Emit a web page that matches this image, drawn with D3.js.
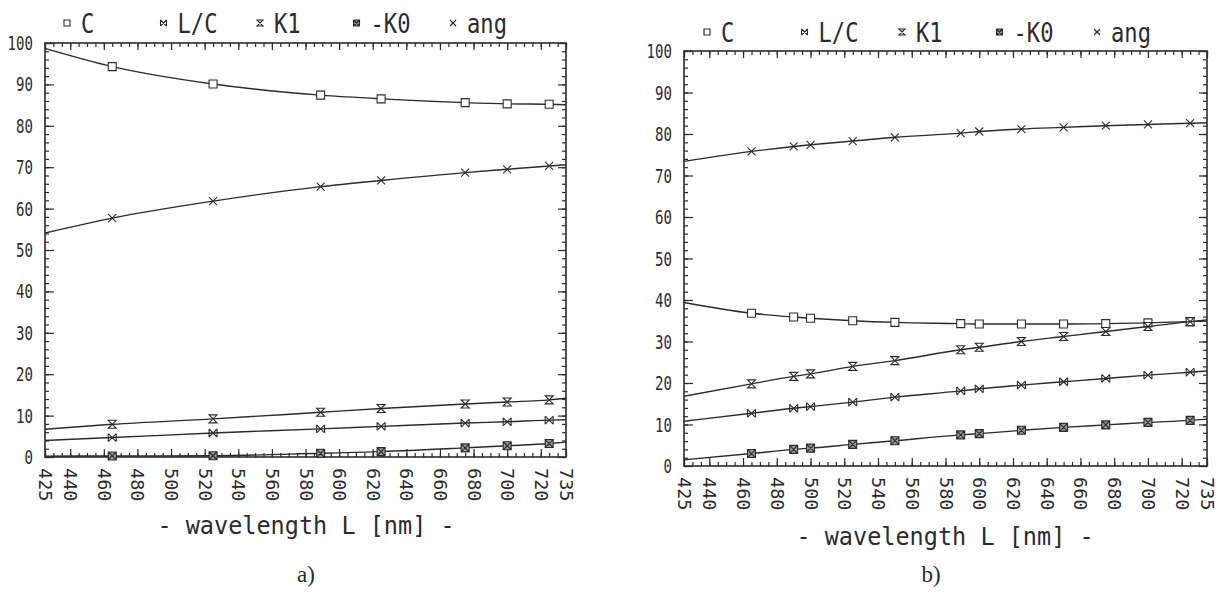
<!DOCTYPE html>
<html>
<head>
<meta charset="utf-8">
<script src="https://cdn.jsdelivr.net/npm/d3@7"></script>
<style>
  body { margin: 0; background: #fff; }
  svg { display: block; }
  text { font-family: "DejaVu Sans Mono", monospace; fill: #2b2b2b; }
</style>
</head>
<body>
<div id="chart"></div>
<script>
/*
 * Globals: d3
 */
// legend entries, in the order they are drawn
var seriesNames = ['C', 'L/C', 'K1', '-K0', 'ang'];
var markerKinds = ['square', 'bowtie', 'hourglass', 'boxcross', 'cross'];

var yTicks = [0, 10, 20, 30, 40, 50, 60, 70, 80, 90, 100];
var xTicks = [425, 440, 460, 480, 500, 520, 540, 560, 580, 600, 620, 640, 660, 680, 700, 720, 735];

// panel a) - curve ends at 425 / 735 carry no marker
var waveA = [425, 465, 525, 589, 625, 675, 700, 725, 735];
var cA    = [98.7, 94.3, 90.1, 87.4, 86.5, 85.6, 85.3, 85.2, 85.1];
var lcA   = [4.0, 4.7, 5.8, 6.8, 7.4, 8.2, 8.5, 8.9, 9.0];
var k1A   = [6.7, 7.9, 9.2, 10.8, 11.7, 12.8, 13.3, 13.8, 14.2];
var k0A   = [0.2, 0.25, 0.3, 0.9, 1.3, 2.2, 2.7, 3.25, 3.6];
var angA  = [54.1, 57.7, 61.8, 65.3, 66.8, 68.7, 69.5, 70.3, 70.6];

// panel b)
var waveB = [425, 465, 490, 500, 525, 550, 589, 600, 625, 650, 675, 700, 725, 735];
var cB    = [39.4, 36.8, 35.9, 35.6, 35.0, 34.6, 34.3, 34.2, 34.2, 34.2, 34.3, 34.5, 34.8, 34.9];
var lcB   = [10.8, 12.7, 13.9, 14.3, 15.4, 16.6, 18.1, 18.6, 19.5, 20.3, 21.1, 21.9, 22.6, 22.9];
var k1B   = [16.8, 19.8, 21.6, 22.2, 24.0, 25.4, 28.0, 28.6, 30.0, 31.2, 32.4, 33.6, 34.8, 35.2];
var k0B   = [1.5, 3.0, 4.0, 4.3, 5.2, 6.1, 7.5, 7.8, 8.6, 9.3, 9.9, 10.5, 11.0, 11.3];
var angB  = [73.4, 75.8, 77.0, 77.4, 78.3, 79.2, 80.2, 80.6, 81.2, 81.6, 82.0, 82.3, 82.6, 82.7];

var xTitle = '- wavelength L [nm] -';

(function() {
  var ink = '#2b2b2b';
  var svg = d3.select('#chart').append('svg').attr('width', 1220).attr('height', 593);

  var panels = [
    { left: 45, right: 566, top: 43, bottom: 457, waves: waveA, series: [cA, lcA, k1A, k0A, angA],
      legendX: 67, legendStep: 96.5, legendY: 33, titleX: 306, titleY: 534, tag: 'a)', tagX: 306, tagY: 582 },
    { left: 684, right: 1207, top: 51, bottom: 466, waves: waveB, series: [cB, lcB, k1B, k0B, angB],
      legendX: 707, legendStep: 97.5, legendY: 42, titleX: 945, titleY: 545, tag: 'b)', tagX: 931, tagY: 582 }
  ];

  panels.forEach(drawPanel);

  /*
   * Marker outline, centred on 0,0
   */
  function markerPath(kind, s) {
    if (kind === 'square' || kind === 'boxcross') {
      var p = 'M' + -s + ',' + -s + 'H' + s + 'V' + s + 'H' + -s + 'Z';
      if (kind === 'boxcross') {
        p += 'M' + -s + ',' + -s + 'L' + s + ',' + s + 'M' + -s + ',' + s + 'L' + s + ',' + -s;
      }
      return p;
    }
    if (kind === 'bowtie') {
      return 'M' + -s + ',' + -s + 'L' + s + ',' + s + 'M' + -s + ',' + s + 'L' + s + ',' + -s +
        'M' + -s + ',' + -s + 'V' + s + 'M' + s + ',' + -s + 'V' + s;
    }
    if (kind === 'hourglass') {
      return 'M' + -s + ',' + -s + 'H' + s + 'L' + -s + ',' + s + 'H' + s + 'Z';
    }
    return 'M' + -s + ',' + -s + 'L' + s + ',' + s + 'M' + -s + ',' + s + 'L' + s + ',' + -s;
  }

  function styleMarker(sel, kind) {
    sel.attr('stroke', ink).attr('stroke-width', 1.1)
      .attr('fill', kind === 'boxcross' ? '#9a9a9a' : (kind === 'cross' || kind === 'bowtie' ? 'none' : '#fff'));
  }

  function drawPanel(p) {
    var x = d3.scaleLinear().domain([425, 735]).range([p.left, p.right]);
    var y = d3.scaleLinear().domain([0, 100]).range([p.bottom, p.top]);
    var g = svg.append('g');
    var minorX = d3.range(425, 736, 5);
    var minorY = d3.range(0, 101, 2);

    // inward ticks on all four sides
    var ax = g.append('g');
    ax.append('g').attr('transform', 'translate(0,' + p.bottom + ')')
      .call(d3.axisBottom(x).tickValues(minorX).tickSize(-4).tickSizeOuter(0).tickFormat(''));
    ax.append('g').attr('transform', 'translate(0,' + p.bottom + ')')
      .call(d3.axisBottom(x).tickValues(xTicks).tickSize(-8).tickSizeOuter(0).tickFormat(''));
    ax.append('g').attr('transform', 'translate(0,' + p.top + ')')
      .call(d3.axisTop(x).tickValues(minorX).tickSize(-4).tickSizeOuter(0).tickFormat(''));
    ax.append('g').attr('transform', 'translate(0,' + p.top + ')')
      .call(d3.axisTop(x).tickValues(xTicks).tickSize(-7).tickSizeOuter(0).tickFormat(''));
    ax.append('g').attr('transform', 'translate(' + p.left + ',0)')
      .call(d3.axisLeft(y).tickValues(minorY).tickSize(-4).tickSizeOuter(0).tickFormat(''));
    ax.append('g').attr('transform', 'translate(' + p.left + ',0)')
      .call(d3.axisLeft(y).tickValues(yTicks).tickSize(-9).tickSizeOuter(0).tickFormat(''));
    ax.append('g').attr('transform', 'translate(' + p.right + ',0)')
      .call(d3.axisRight(y).tickValues(minorY).tickSize(-4).tickSizeOuter(0).tickFormat(''));
    ax.append('g').attr('transform', 'translate(' + p.right + ',0)')
      .call(d3.axisRight(y).tickValues(yTicks).tickSize(-8).tickSizeOuter(0).tickFormat(''));
    ax.selectAll('.domain').remove();
    ax.selectAll('line').attr('stroke', ink).attr('stroke-width', 1.2);

    g.append('rect')
      .attr('x', p.left).attr('y', p.top)
      .attr('width', p.right - p.left).attr('height', p.bottom - p.top)
      .attr('fill', 'none').attr('stroke', ink).attr('stroke-width', 1.6);

    // y labels (narrow plotter lettering)
    g.selectAll('.ylab').data(yTicks).enter().append('text')
      .attr('class', 'ylab')
      .attr('text-anchor', 'end')
      .attr('font-size', 19)
      .attr('transform', function(d) { return 'translate(' + (p.left - 12) + ',' + (y(d) + 7) + ') scale(0.74,1)'; })
      .text(function(d) { return d; });

    // x labels, rotated to read downwards
    g.selectAll('.xlab').data(xTicks).enter().append('text')
      .attr('class', 'xlab')
      .attr('font-size', 18.5)
      .attr('transform', function(d) { return 'translate(' + (x(d) - 6) + ',' + (p.bottom + 11) + ') rotate(90)'; })
      .text(function(d) { return d; });

    // curves and markers
    var line = d3.line()
      .x(function(d, i) { return x(p.waves[i]); })
      .y(function(d) { return y(d); })
      .curve(d3.curveMonotoneX);

    p.series.forEach(function(vals, si) {
      g.append('path').attr('d', line(vals))
        .attr('fill', 'none').attr('stroke', ink).attr('stroke-width', 1.4);
      var pts = vals.map(function(v, i) { return { w: p.waves[i], v: v }; })
        .filter(function(d) { return d.w > 425 && d.w < 735; });
      g.selectAll('.m' + si).data(pts).enter().append('path')
        .attr('class', 'm' + si)
        .attr('transform', function(d) { return 'translate(' + x(d.w) + ',' + y(d.v) + ')'; })
        .attr('d', markerPath(markerKinds[si], 4))
        .call(styleMarker, markerKinds[si]);
    });

    // legend across the top
    seriesNames.forEach(function(name, i) {
      var lx = p.legendX + i * p.legendStep;
      g.append('path')
        .attr('transform', 'translate(' + lx + ',' + (p.legendY - 10) + ')')
        .attr('d', markerPath(markerKinds[i], 3))
        .call(styleMarker, markerKinds[i]);
      g.append('text')
        .attr('font-size', 27)
        .attr('transform', 'translate(' + (lx + 14) + ',' + p.legendY + ') scale(0.82,1)')
        .text(name);
    });

    g.append('text')
      .attr('text-anchor', 'middle')
      .attr('font-size', 24)
      .attr('transform', 'translate(' + p.titleX + ',' + p.titleY + ') scale(0.98,1)')
      .text(xTitle);

    g.append('text')
      .attr('x', p.tagX).attr('y', p.tagY)
      .attr('text-anchor', 'middle')
      .attr('font-size', 23)
      .style('font-family', '"Liberation Serif", "DejaVu Serif", serif')
      .text(p.tag);
  }
}).call(this);
</script>
</body>
</html>
